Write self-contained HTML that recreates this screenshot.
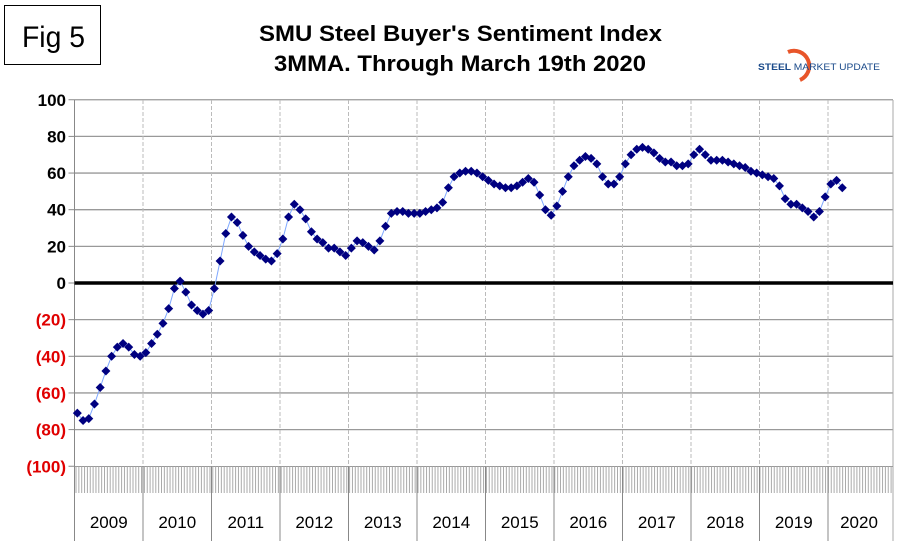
<!DOCTYPE html>
<html><head><meta charset="utf-8"><style>
body{margin:0;background:#fff;}
svg text{font-family:"Liberation Sans",Arial,sans-serif;}
.nar{font-family:"Liberation Sans Narrow","Liberation Sans",Arial,sans-serif;}
</style></head><body>
<svg width="906" height="541" viewBox="0 0 906 541" xmlns="http://www.w3.org/2000/svg">
<rect x="0" y="0" width="906" height="541" fill="#fff"/>
<rect x="4.5" y="5.5" width="96" height="59" fill="#fff" stroke="#000" stroke-width="1"/>
<text x="22" y="47" font-size="30" textLength="63" lengthAdjust="spacingAndGlyphs">Fig 5</text>
<text class="nar" x="259" y="41" font-size="22" font-weight="bold" textLength="403" lengthAdjust="spacingAndGlyphs">SMU Steel Buyer's Sentiment Index</text>
<text class="nar" x="274" y="71" font-size="22" font-weight="bold" textLength="372" lengthAdjust="spacingAndGlyphs">3MMA. Through March 19th 2020</text>
<g>
<path d="M788,52 A14,14 0 1 1 800,80" fill="none" stroke="#e8552a" stroke-width="4"/>
<text x="758" y="70" font-size="9.5" font-weight="bold" fill="#1a4a8a" textLength="122" lengthAdjust="spacingAndGlyphs">STEEL <tspan font-weight="normal">MARKET UPDATE</tspan></text>
</g>
<g id="grid"></g>
<g id="yl"></g>
<g id="band"></g>
<g id="xl"></g>
<g id="pts"></g>
</svg>
<script>
const years=["2009","2010","2011","2012","2013","2014","2015","2016","2017","2018","2019","2020"];
const yTicks=[100,80,60,40,20,0,-20,-40,-60,-80,-100];
const v2009=[-71,-75,-74,-66,-57,-48,-40,-35,-33,-35,-39,-40];
const v2010=[-38,-33,-28,-22,-14,-3,1,-5,-12,-15,-17,-15];
const v2011=[-3,12,27,36,33,26,20,17,15,13,12,16];
const v2012=[24,36,43,40,35,28,24,22,19,19,17,15];
const v2013=[19,23,22,20,18,23,31,38,39,39,38,38];
const v2014=[38,39,40,41,44,52,58,60,61,61,60,58];
const v2015=[56,54,53,52,52,53,55,57,55,48,40,37];
const v2016=[42,50,58,64,67,69,68,65,58,54,54,58];
const v2017=[65,70,73,74,73,71,68,66,66,64,64,65];
const v2018=[70,73,70,67,67,67,66,65,64,63,61,60];
const v2019=[59,58,57,53,46,43,43,41,39,36,39,47];
const v2020=[54,56,52];
const series=[v2009,v2010,v2011,v2012,v2013,v2014,v2015,v2016,v2017,v2018,v2019,v2020];
const NS="http://www.w3.org/2000/svg";
const X0=74.5,YW=68.5,XR=893,YTOP=100,YBOT=466.5;
const xs=t=>X0+t*YW;
const ys=v=>283-v*(YBOT-YTOP)/200;
function mk(tag,at,par){const e=document.createElementNS(NS,tag);for(const k in at)e.setAttribute(k,at[k]);document.getElementById(par).appendChild(e);return e;}
yTicks.forEach(v=>{
  if(v!==0&&v!==-100){const l=mk('line',{x1:X0,x2:XR,y1:ys(v),y2:ys(v),stroke:'#999','stroke-width':1.3},'grid');
  
  }
  const tk=mk('line',{x1:X0-6,x2:X0,y1:ys(v),y2:ys(v),stroke:'#888'},'grid');
  
  
  const t=mk('text',{x:66,y:ys(v)+6,'font-size':17,'font-weight':'bold','text-anchor':'end',fill:v<0?'#e00000':'#000'},'yl');
  t.textContent=v<0?'('+(-v)+')':String(v);
  
  
});
years.forEach((y,i)=>{
  if(i>0){const g=mk('line',{x1:xs(i),x2:xs(i),y1:YTOP,y2:YBOT,stroke:'#bbb','stroke-dasharray':'4,2'},'grid');
  
  }
  const s=mk('line',{x1:xs(i),x2:xs(i),y1:YBOT,y2:541,stroke:'#888'},'xl');
  
  
  const t=mk('text',{x:Math.min(xs(i+0.5),859),y:528,'font-size':17,'text-anchor':'middle'},'xl');
  t.textContent=y;
  
  
});
const ax=mk('line',{x1:X0,x2:X0,y1:YTOP,y2:541,stroke:'#888'},'grid');


const rb=mk('line',{x1:XR,x2:XR,y1:YTOP,y2:541,stroke:'#aaa'},'grid');


const zl=mk('line',{x1:X0,x2:XR,y1:ys(0),y2:ys(0),stroke:'#000','stroke-width':3.5},'grid');


const bl=mk('line',{x1:X0,x2:XR,y1:YBOT,y2:YBOT,stroke:'#999'},'band');


for(let x=X0+1.5;x<XR;x+=2.85){const h=mk('line',{x1:x,x2:x,y1:YBOT,y2:493,stroke:'#aaa','stroke-width':1},'band');

}
const pts=[];
series.forEach((arr,yi)=>arr.forEach((v,m)=>pts.push([xs(yi+(m+0.5)/12),ys(v)])));
const pl=mk('polyline',{points:pts.map(p=>p.join(',')).join(' '),fill:'none',stroke:'#7fa8ff','stroke-width':1},'pts');


pts.forEach(p=>{const d=mk('path',{d:`M${p[0]},${p[1]-4.5}l4.5,4.5l-4.5,4.5l-4.5,-4.5z`,fill:'#000080'},'pts');

});
</script>
</body></html>
